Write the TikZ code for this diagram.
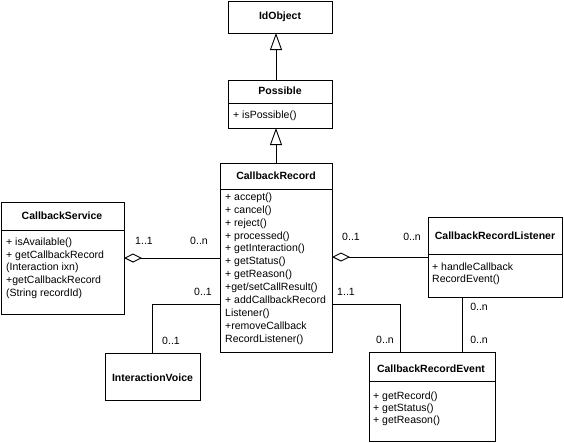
\documentclass[tikz,border=0pt]{standalone}
\usepackage{fontspec}
\setmainfont{Liberation Sans}
\usetikzlibrary{arrows.meta}
\begin{document}
\begin{tikzpicture}[x=1pt,y=-1pt,
  cls/.style={draw=black, line width=0.9pt, inner sep=0pt, outer sep=0pt, anchor=north west, fill=white},
  ttl/.style={anchor=base, inner sep=0pt, font=\fontsize{10.5}{13}\selectfont\bfseries},
  ops/.style={anchor=north west, inner sep=0pt, align=left, font=\fontsize{10.5}{#1}\selectfont},
  mult/.style={anchor=base, inner sep=0pt, font=\fontsize{10.5}{13}\selectfont},
  conn/.style={draw=black, line width=0.9pt},
  agg/.style={conn, {Diamond[open, length=18pt, width=9pt]}-},
  inh/.style={conn, -{Triangle[open, length=17pt, width=12pt]}},
]
\fill[white] (0,0) rectangle (564,442);
\useasboundingbox (0,0) rectangle (564,442);

% class boxes
\node[cls, minimum width=104pt, minimum height=32pt] (id) at (228,1) {};
\node[cls, minimum width=104pt, minimum height=48pt] (poss) at (228,80) {};
\node[cls, minimum width=112pt, minimum height=189pt] (cr) at (220,163) {};
\node[cls, minimum width=123pt, minimum height=112pt] (svc) at (1,202) {};
\node[cls, minimum width=134pt, minimum height=80pt] (lst) at (428,217) {};
\node[cls, minimum width=95pt, minimum height=47pt] (iv) at (105,353) {};
\node[cls, minimum width=126pt, minimum height=89pt] (ev) at (369,352) {};

% separators
\draw[conn] ([yshift=-23pt]poss.north west) -- ([yshift=-23pt]poss.north east);
\draw[conn] ([yshift=-26pt]cr.north west) -- ([yshift=-26pt]cr.north east);
\draw[conn] ([yshift=-28pt]svc.north west) -- ([yshift=-28pt]svc.north east);
\draw[conn] ([yshift=-37pt]lst.north west) -- ([yshift=-37pt]lst.north east);
\draw[conn] ([yshift=-29pt]ev.north west) -- ([yshift=-29pt]ev.north east);

% titles
\node[ttl] (id-t) at (280,19.8) {IdObject};
\node[ttl] (poss-t) at (280,94.8) {Possible};
\node[ttl] (cr-t) at (276,179) {CallbackRecord};
\node[ttl] (svc-t) at (62,219.5) {CallbackService};
\node[ttl] (lst-t) at (495,239.5) {CallbackRecordListener};
\node[ttl] (iv-t) at (152.5,381) {InteractionVoice};
\node[ttl] (ev-t) at (431,372) {CallbackRecordEvent};

% operations
\node[ops=13] (poss-o) at (233,110.8) {+ isPossible()};
\node[ops=12.9] (cr-o) at (225,192.5) {+ accept()\\+ cancel()\\+ reject()\\+ processed()\\+ getInteraction()\\+ getStatus()\\+ getReason()\\+get/setCallResult()\\+ addCallbackRecord\\Listener()\\+removeCallback\\RecordListener()};
\node[ops=12.7] (svc-o) at (6,237.5) {+ isAvailable()\\+ getCallbackRecord\\(Interaction ixn)\\+getCallbackRecord\\(String recordId)};
\node[ops=12.3] (lst-o) at (432,262.8) {+ handleCallback\\RecordEvent()};
\node[ops=12.3] (ev-o) at (373,391.5) {+ getRecord()\\+ getStatus()\\+ getReason()};

% connectors
\draw[inh] (poss.north -| cr.north) -- (cr.north |- id.south);
\draw[inh] (cr.north) -- (cr.north |- poss.south);
\draw[agg] (svc.east) -- (svc.east -| cr.west);
\draw[agg] (lst.west -| cr.east) -- (lst.west);
\coordinate (crL) at ([yshift=-141pt]cr.north west);
\coordinate (crR) at ([yshift=-141pt]cr.north east);
\draw[conn] (crL) -| (iv.north);
\draw[conn] (crR) -| ([xshift=-32pt]ev.north);
\draw[conn] ([xshift=-33pt]lst.south) -- ([xshift=-33pt]lst.south |- ev.north);

% multiplicities
\node[mult] (m1) at (144,244.5) {1..1};
\node[mult] (m2) at (199,244.5) {0..n};
\node[mult] (m3) at (203,295.7) {0..1};
\node[mult] (m4) at (351,240) {0..1};
\node[mult] (m5) at (412,240) {0..n};
\node[mult] (m6) at (346,295.7) {1..1};
\node[mult] (m7) at (171,344.7) {0..1};
\node[mult] (m8) at (385,343.7) {0..n};
\node[mult] (m9) at (479,310.7) {0..n};
\node[mult] (m10) at (479,343.7) {0..n};
\end{tikzpicture}
\end{document}
